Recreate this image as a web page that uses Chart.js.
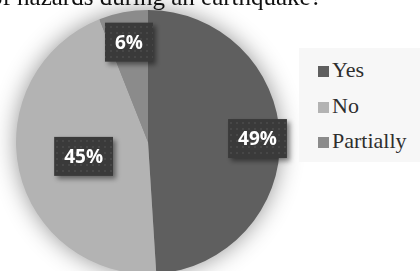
<!DOCTYPE html>
<html>
<head>
<meta charset="utf-8">
<script src="https://cdn.jsdelivr.net/npm/chart.js@4/dist/chart.umd.min.js"></script>
<style>
    html, body { margin: 0; padding: 0; background: #ffffff; overflow: hidden; width: 420px; height: 271px; }
    #title { position: absolute; left: -10px; top: -16px; font-family: "Liberation Serif", serif; font-size: 25px; line-height: 25px; color: #111; white-space: nowrap; }
    #chart-wrap { position: absolute; left: 0; top: 0; width: 420px; height: 290px; }
    #legend { position: absolute; left: 299px; top: 48px; width: 121px; height: 114px; background: #f7f7f7; }
    .legend-item { position: absolute; left: 19px; font-family: "Liberation Serif", serif; font-size: 22px; color: #2e2e2e; white-space: nowrap; }
    .legend-box { display: inline-block; width: 11px; height: 11px; margin-right: 3px; }
</style>
</head>
<body>
<div id="chart-wrap"><canvas id="chart" width="420" height="290"></canvas></div>
<div id="title">of hazards during an earthquake?</div>
<div id="legend"></div>
<script>
const categories = ["Yes", "No", "Partially"]
const percentValues = [49, 45, 6]
const percentLabels = ["49%", "45%", "6%"]
const sliceColors = ["#5f5f5f", "#b3b3b3", "#8b8b8b"]

// radial position of each value box, as a share of the radius
const labelRadius = [0.83, 0.5, 0.77]

function makeDotPattern(ctx) {
    const tile = document.createElement("canvas")
    tile.width = 6
    tile.height = 6
    const t = tile.getContext("2d")
    t.fillStyle = "#3a3a3a"
    t.fillRect(0, 0, 6, 6)
    t.fillStyle = "#474747"
    t.fillRect(2, 2, 2, 2)
    return ctx.createPattern(tile, "repeat")
}

const pieShadow = {
    id: "pieShadow",
    beforeDatasetsDraw(chart) {
        const arc = chart.getDatasetMeta(0).data[0]
        if (!arc) return
        const ctx = chart.ctx
        ctx.save()
        ctx.shadowColor = "rgba(0, 0, 0, 0.45)"
        ctx.shadowBlur = 24
        ctx.fillStyle = "#888888"
        ctx.beginPath()
        ctx.arc(arc.x, arc.y, arc.outerRadius - 1, 0, Math.PI * 2)
        ctx.fill()
        ctx.restore()
    }
}

const valueBoxes = {
    id: "valueBoxes",
    afterDatasetsDraw(chart) {
        const ctx = chart.ctx
        const pattern = makeDotPattern(ctx)
        const arcs = chart.getDatasetMeta(0).data
        ctx.save()
        ctx.font = "bold 19px 'Open Sans'"
        ctx.textAlign = "center"
        ctx.textBaseline = "middle"
        arcs.forEach((arc, i) => {
            const mid = (arc.startAngle + arc.endAngle) / 2
            const r = arc.outerRadius * labelRadius[i]
            const cx = arc.x + Math.cos(mid) * r
            const cy = arc.y + Math.sin(mid) * r
            const text = percentLabels[i]
            const w = ctx.measureText(text).width + 20
            const h = 39

            ctx.save()
            ctx.shadowColor = "rgba(0, 0, 0, 0.45)"
            ctx.shadowBlur = 5
            ctx.shadowOffsetX = 3
            ctx.shadowOffsetY = 3
            ctx.fillStyle = pattern
            ctx.fillRect(cx - w / 2, cy - h / 2, w, h)
            ctx.restore()

            ctx.fillStyle = "#ffffff"
            ctx.fillText(text, cx, cy + 1)
        })
        ctx.restore()
    }
}

new Chart(document.getElementById("chart"), {
    type: "pie",
    data: {
        labels: categories,
        datasets: [{
            data: percentValues,
            backgroundColor: sliceColors,
            borderWidth: 0,
            hoverOffset: 0
        }]
    },
    options: {
        responsive: false,
        animation: false,
        layout: { padding: { left: 16, top: 10, right: 140, bottom: 16 } },
        plugins: {
            legend: { display: false },
            tooltip: { enabled: false }
        }
    },
    plugins: [pieShadow, valueBoxes]
})

const legend = document.getElementById("legend")
const legendTops = [9, 45, 80]
categories.forEach((name, i) => {
    const item = document.createElement("div")
    item.className = "legend-item"
    item.style.top = legendTops[i] + "px"
    item.innerHTML = `<span class="legend-box" style="background:${sliceColors[i]}"></span>${name}`
    legend.appendChild(item)
})
</script>
</body>
</html>
